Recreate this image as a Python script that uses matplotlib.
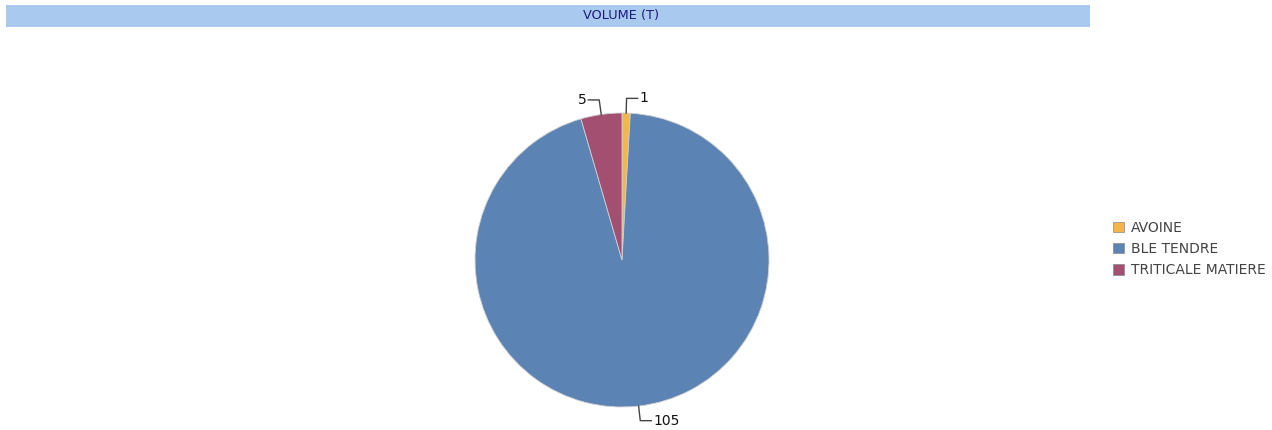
import numpy as np
import matplotlib.pyplot as plt
from matplotlib.patches import Rectangle, Patch

W, H = 1272, 430

categories = ["AVOINE", "BLE TENDRE", "TRITICALE MATIERE"]
volumes = [1, 105, 5]
colors = ["#f5b54a", "#5b83b4", "#a34f72"]
title = "VOLUME (T)"

fig = plt.figure(figsize=(W / 100, H / 100), dpi=100)
ax = fig.add_axes([0, 0, 1, 1])

# title bar
ax.add_patch(Rectangle((6, H - 27), 1084, 22, facecolor="#a9c9ee", edgecolor="none"))
ax.text(621, H - 16, title, ha="center", va="center", fontsize=9.3, color="#1c1c78")

cx, cy, r = 622, H - 260, 147
wedges, _ = ax.pie(volumes, colors=colors, startangle=90, counterclock=False,
                   center=(cx, cy), radius=r, frame=True,
                   wedgeprops=dict(edgecolor="#d0d0d0", linewidth=0.6))
ax.set_xlim(0, W)
ax.set_ylim(0, H)
ax.set_aspect("equal")
ax.axis("off")

# value labels with elbow leaders
for w, v in zip(wedges, volumes):
    mid = np.deg2rad((w.theta1 + w.theta2) / 2)
    x0, y0 = cx + r * np.cos(mid), cy + r * np.sin(mid)
    x1, y1 = cx + r * 1.1 * np.cos(mid), cy + r * 1.1 * np.sin(mid)
    s = 1 if np.cos(mid) >= 0 else -1
    x2 = x1 + s * 11
    ax.plot([x0, x1, x2], [y0, y1, y1], color="#444444", linewidth=1.0)
    ax.text(x2 + s * 2, y1, str(v), ha="left" if s > 0 else "right", va="center",
            fontsize=10, color="#111111")

# legend
handles = [Patch(facecolor=c, edgecolor="#888888", linewidth=0.5) for c in colors]
fig.legend(handles, categories, loc="center left", bbox_to_anchor=(1100 / W, 1 - 249 / H),
           frameon=False, fontsize=10, handlelength=0.8, handleheight=0.8,
           handletextpad=0.5, labelspacing=0.52, labelcolor="#444444")

fig.savefig("out.png", dpi=100)
